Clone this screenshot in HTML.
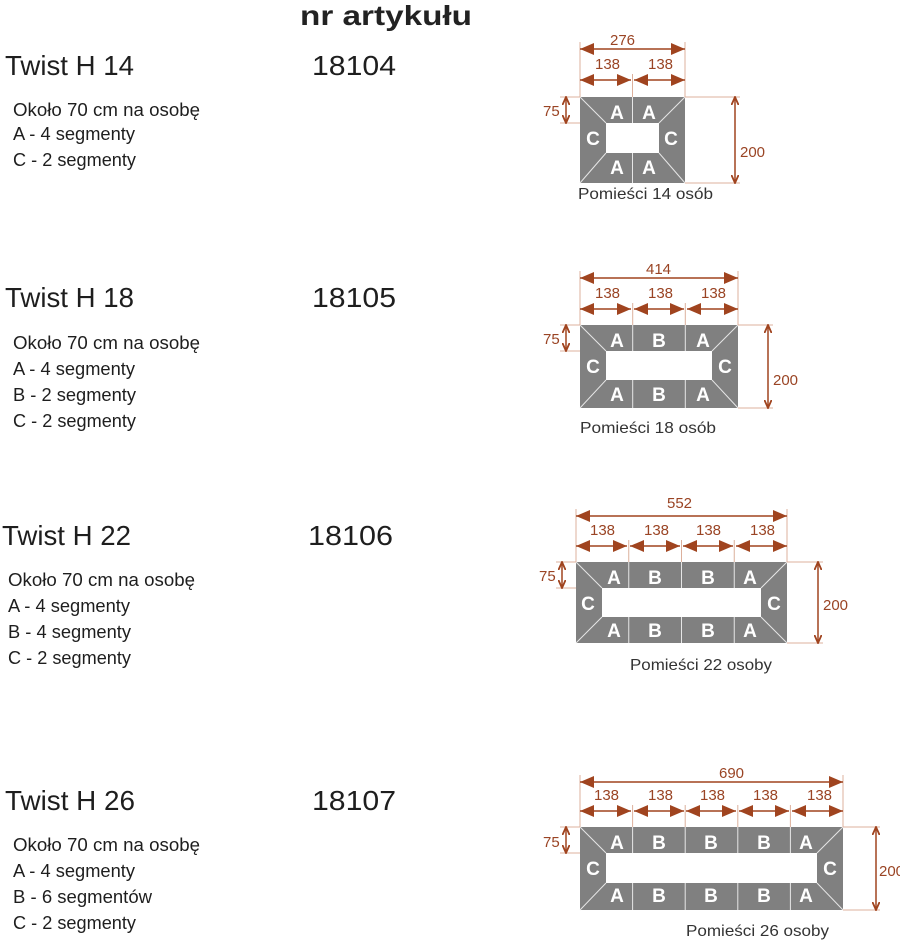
<!DOCTYPE html>
<html><head><meta charset="utf-8"><style>
html,body{margin:0;padding:0;background:#fff;}
svg{display:block;font-family:"Liberation Sans Narrow","Liberation Sans",sans-serif;}
.t{font-size:28px;fill:#1e1e1e;}
.s{font-size:18px;fill:#1e1e1e;}
.p{font-size:16px;fill:#333;}
.d{font-size:15px;fill:#9a4424;}
.l{font-size:19px;font-weight:bold;fill:#fff;font-family:"Liberation Sans",sans-serif;text-anchor:middle;}
.g{fill:#808080;}
.w{stroke:#e6e6e6;stroke-width:1;fill:none;}
.e{stroke:#dcb09c;stroke-width:1;fill:none;}
.a{stroke:#a0441f;stroke-width:1.5;fill:none;}
</style></head><body>
<svg width="900" height="940" viewBox="0 0 900 940" xmlns="http://www.w3.org/2000/svg">
<defs>
<marker id="ar" viewBox="0 0 14 12" refX="14" refY="6" markerWidth="14" markerHeight="12" markerUnits="userSpaceOnUse" orient="auto-start-reverse"><path d="M0,0 L14,6 L0,12 Z" fill="#a0441f"/></marker>
<marker id="sm" viewBox="0 0 10 8" refX="9" refY="4" markerWidth="9" markerHeight="8" markerUnits="userSpaceOnUse" orient="auto-start-reverse"><path d="M0,0 L9,4 L0,8" fill="none" stroke="#a0441f" stroke-width="2"/></marker>
</defs>

<text x="300" y="25" style="font-size:28px;font-weight:bold;fill:#222;font-family:'Liberation Sans',sans-serif" textLength="172" lengthAdjust="spacingAndGlyphs">nr artykułu</text>

<!-- Block 1 -->
<text class="t" x="5" y="75" textLength="129" lengthAdjust="spacingAndGlyphs">Twist H 14</text>
<text class="t" x="312" y="75" textLength="84" lengthAdjust="spacingAndGlyphs">18104</text>
<text class="s" x="13" y="116" textLength="187" lengthAdjust="spacingAndGlyphs">Około 70 cm na osobę</text>
<text class="s" x="13" y="140" textLength="122" lengthAdjust="spacingAndGlyphs">A - 4 segmenty</text>
<text class="s" x="13" y="166" textLength="123" lengthAdjust="spacingAndGlyphs">C - 2 segmenty</text>

<rect class="g" x="580" y="97" width="105" height="86"/>
<rect fill="#fff" x="606" y="123" width="53" height="30"/>
<path class="w" d="M580,97 L606,123 M685,97 L659,123 M580,183 L606,153 M685,183 L659,153 M632.5,97 V123 M632.5,153 V183"/>
<text class="l" x="617" y="119">A</text><text class="l" x="649" y="119">A</text>
<text class="l" x="593" y="145">C</text><text class="l" x="671" y="145">C</text>
<text class="l" x="617" y="174">A</text><text class="l" x="649" y="174">A</text>
<path class="e" d="M580,97 V42 M685,97 V42 M632.5,97 V74 M685,97 H740 M685,183 H740 M560,97 H580 M560,123 H580"/>
<line class="a" x1="580" y1="49" x2="685" y2="49" marker-start="url(#ar)" marker-end="url(#ar)"/>
<line class="a" x1="580" y1="80" x2="631" y2="80" marker-start="url(#ar)" marker-end="url(#ar)"/>
<line class="a" x1="634" y1="80" x2="685" y2="80" marker-start="url(#ar)" marker-end="url(#ar)"/>
<line class="a" x1="566" y1="97" x2="566" y2="123" marker-start="url(#sm)" marker-end="url(#sm)"/>
<line class="a" x1="735" y1="97" x2="735" y2="183" marker-start="url(#sm)" marker-end="url(#sm)"/>
<text class="d" x="610" y="45">276</text>
<text class="d" x="595" y="69">138</text><text class="d" x="648" y="69">138</text>
<text class="d" x="543" y="116">75</text>
<text class="d" x="740" y="157">200</text>
<text class="p" x="578" y="199" textLength="135" lengthAdjust="spacingAndGlyphs">Pomieści 14 osób</text>

<!-- Block 2 -->
<text class="t" x="5" y="307" textLength="129" lengthAdjust="spacingAndGlyphs">Twist H 18</text>
<text class="t" x="312" y="307" textLength="84" lengthAdjust="spacingAndGlyphs">18105</text>
<text class="s" x="13" y="349" textLength="187" lengthAdjust="spacingAndGlyphs">Około 70 cm na osobę</text>
<text class="s" x="13" y="375" textLength="122" lengthAdjust="spacingAndGlyphs">A - 4 segmenty</text>
<text class="s" x="13" y="401" textLength="123" lengthAdjust="spacingAndGlyphs">B - 2 segmenty</text>
<text class="s" x="13" y="427" textLength="123" lengthAdjust="spacingAndGlyphs">C - 2 segmenty</text>

<rect class="g" x="580" y="325" width="158" height="83"/>
<rect fill="#fff" x="606" y="351" width="106" height="29"/>
<path class="w" d="M580,325 L606,351 M738,325 L712,351 M580,408 L606,380 M738,408 L712,380 M632.7,325 V351 M685.3,325 V351 M632.7,380 V408 M685.3,380 V408"/>
<text class="l" x="617" y="347">A</text><text class="l" x="659" y="347">B</text><text class="l" x="703" y="347">A</text>
<text class="l" x="593" y="373">C</text><text class="l" x="725" y="373">C</text>
<text class="l" x="617" y="401">A</text><text class="l" x="659" y="401">B</text><text class="l" x="703" y="401">A</text>
<path class="e" d="M580,325 V271 M738,325 V271 M632.7,325 V303 M685.3,325 V303 M738,325 H773 M738,408 H773 M560,325 H580 M560,351 H580"/>
<line class="a" x1="580" y1="278" x2="738" y2="278" marker-start="url(#ar)" marker-end="url(#ar)"/>
<line class="a" x1="580" y1="309" x2="631" y2="309" marker-start="url(#ar)" marker-end="url(#ar)"/>
<line class="a" x1="634" y1="309" x2="684" y2="309" marker-start="url(#ar)" marker-end="url(#ar)"/>
<line class="a" x1="687" y1="309" x2="738" y2="309" marker-start="url(#ar)" marker-end="url(#ar)"/>
<line class="a" x1="566" y1="325" x2="566" y2="351" marker-start="url(#sm)" marker-end="url(#sm)"/>
<line class="a" x1="768" y1="325" x2="768" y2="408" marker-start="url(#sm)" marker-end="url(#sm)"/>
<text class="d" x="646" y="274">414</text>
<text class="d" x="595" y="298">138</text><text class="d" x="648" y="298">138</text><text class="d" x="701" y="298">138</text>
<text class="d" x="543" y="344">75</text>
<text class="d" x="773" y="385">200</text>
<text class="p" x="580" y="433" textLength="136" lengthAdjust="spacingAndGlyphs">Pomieści 18 osób</text>

<!-- Block 3 -->
<text class="t" x="2" y="545" textLength="129" lengthAdjust="spacingAndGlyphs">Twist H 22</text>
<text class="t" x="308" y="545" textLength="85" lengthAdjust="spacingAndGlyphs">18106</text>
<text class="s" x="8" y="586" textLength="187" lengthAdjust="spacingAndGlyphs">Około 70 cm na osobę</text>
<text class="s" x="8" y="612" textLength="122" lengthAdjust="spacingAndGlyphs">A - 4 segmenty</text>
<text class="s" x="8" y="638" textLength="123" lengthAdjust="spacingAndGlyphs">B - 4 segmenty</text>
<text class="s" x="8" y="664" textLength="123" lengthAdjust="spacingAndGlyphs">C - 2 segmenty</text>

<rect class="g" x="576" y="562" width="211" height="81"/>
<rect fill="#fff" x="602" y="588" width="159" height="29"/>
<path class="w" d="M576,562 L602,588 M787,562 L761,588 M576,643 L602,617 M787,643 L761,617 M628.75,562 V588 M681.5,562 V588 M734.25,562 V588 M628.75,617 V643 M681.5,617 V643 M734.25,617 V643"/>
<text class="l" x="614" y="584">A</text><text class="l" x="655" y="584">B</text><text class="l" x="708" y="584">B</text><text class="l" x="750" y="584">A</text>
<text class="l" x="588" y="610">C</text><text class="l" x="774" y="610">C</text>
<text class="l" x="614" y="637">A</text><text class="l" x="655" y="637">B</text><text class="l" x="708" y="637">B</text><text class="l" x="750" y="637">A</text>
<path class="e" d="M576,562 V509 M787,562 V509 M628.75,562 V540 M681.5,562 V540 M734.25,562 V540 M787,562 H823 M787,643 H823 M556,562 H576 M556,588 H576"/>
<line class="a" x1="576" y1="516" x2="787" y2="516" marker-start="url(#ar)" marker-end="url(#ar)"/>
<line class="a" x1="576" y1="546" x2="627" y2="546" marker-start="url(#ar)" marker-end="url(#ar)"/>
<line class="a" x1="630" y1="546" x2="680" y2="546" marker-start="url(#ar)" marker-end="url(#ar)"/>
<line class="a" x1="683" y1="546" x2="733" y2="546" marker-start="url(#ar)" marker-end="url(#ar)"/>
<line class="a" x1="736" y1="546" x2="787" y2="546" marker-start="url(#ar)" marker-end="url(#ar)"/>
<line class="a" x1="562" y1="562" x2="562" y2="588" marker-start="url(#sm)" marker-end="url(#sm)"/>
<line class="a" x1="818" y1="562" x2="818" y2="643" marker-start="url(#sm)" marker-end="url(#sm)"/>
<text class="d" x="667" y="508">552</text>
<text class="d" x="590" y="535">138</text><text class="d" x="644" y="535">138</text><text class="d" x="696" y="535">138</text><text class="d" x="750" y="535">138</text>
<text class="d" x="539" y="581">75</text>
<text class="d" x="823" y="610">200</text>
<text class="p" x="630" y="670" textLength="142" lengthAdjust="spacingAndGlyphs">Pomieści 22 osoby</text>

<!-- Block 4 -->
<text class="t" x="5" y="810" textLength="130" lengthAdjust="spacingAndGlyphs">Twist H 26</text>
<text class="t" x="312" y="810" textLength="84" lengthAdjust="spacingAndGlyphs">18107</text>
<text class="s" x="13" y="851" textLength="187" lengthAdjust="spacingAndGlyphs">Około 70 cm na osobę</text>
<text class="s" x="13" y="877" textLength="122" lengthAdjust="spacingAndGlyphs">A - 4 segmenty</text>
<text class="s" x="13" y="903" textLength="139" lengthAdjust="spacingAndGlyphs">B - 6 segmentów</text>
<text class="s" x="13" y="929" textLength="123" lengthAdjust="spacingAndGlyphs">C - 2 segmenty</text>

<rect class="g" x="580" y="827" width="263" height="83"/>
<rect fill="#fff" x="606" y="853" width="211" height="30"/>
<path class="w" d="M580,827 L606,853 M843,827 L817,853 M580,910 L606,883 M843,910 L817,883 M632.6,827 V853 M685.2,827 V853 M737.8,827 V853 M790.4,827 V853 M632.6,883 V910 M685.2,883 V910 M737.8,883 V910 M790.4,883 V910"/>
<text class="l" x="617" y="849">A</text><text class="l" x="659" y="849">B</text><text class="l" x="711" y="849">B</text><text class="l" x="764" y="849">B</text><text class="l" x="806" y="849">A</text>
<text class="l" x="593" y="875">C</text><text class="l" x="830" y="875">C</text>
<text class="l" x="617" y="902">A</text><text class="l" x="659" y="902">B</text><text class="l" x="711" y="902">B</text><text class="l" x="764" y="902">B</text><text class="l" x="806" y="902">A</text>
<path class="e" d="M580,827 V775 M843,827 V775 M632.6,827 V805 M685.2,827 V805 M737.8,827 V805 M790.4,827 V805 M843,827 H880 M843,910 H880 M560,827 H580 M560,853 H580"/>
<line class="a" x1="580" y1="782" x2="843" y2="782" marker-start="url(#ar)" marker-end="url(#ar)"/>
<line class="a" x1="580" y1="811" x2="631" y2="811" marker-start="url(#ar)" marker-end="url(#ar)"/>
<line class="a" x1="634" y1="811" x2="684" y2="811" marker-start="url(#ar)" marker-end="url(#ar)"/>
<line class="a" x1="686" y1="811" x2="736" y2="811" marker-start="url(#ar)" marker-end="url(#ar)"/>
<line class="a" x1="739" y1="811" x2="789" y2="811" marker-start="url(#ar)" marker-end="url(#ar)"/>
<line class="a" x1="792" y1="811" x2="843" y2="811" marker-start="url(#ar)" marker-end="url(#ar)"/>
<line class="a" x1="566" y1="827" x2="566" y2="853" marker-start="url(#sm)" marker-end="url(#sm)"/>
<line class="a" x1="876" y1="827" x2="876" y2="910" marker-start="url(#sm)" marker-end="url(#sm)"/>
<text class="d" x="719" y="778">690</text>
<text class="d" x="594" y="800">138</text><text class="d" x="648" y="800">138</text><text class="d" x="700" y="800">138</text><text class="d" x="753" y="800">138</text><text class="d" x="807" y="800">138</text>
<text class="d" x="543" y="847">75</text>
<text class="d" x="879" y="876">200</text>
<text class="p" x="686" y="936" textLength="143" lengthAdjust="spacingAndGlyphs">Pomieści 26 osoby</text>
</svg>
</body></html>
